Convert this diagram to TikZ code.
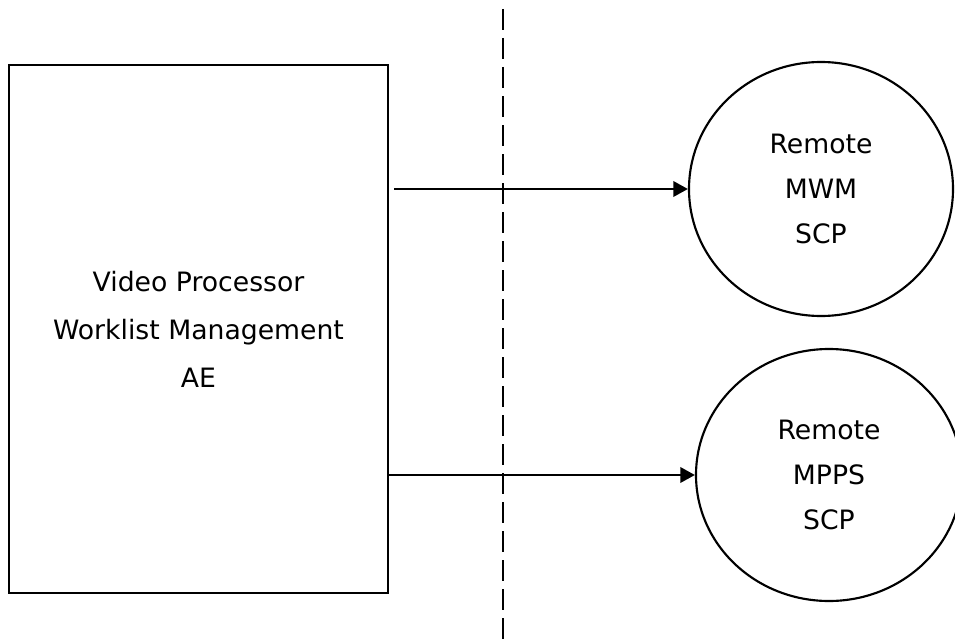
\documentclass[tikz,border=0pt]{standalone}
\usepackage{fontspec}
\setmainfont{DejaVu Sans}
\usetikzlibrary{arrows.meta,shapes.geometric}
\begin{document}
\begin{tikzpicture}[x=0.75pt,y=-0.75pt,
  aebox/.style={draw,line width=1.7pt,align=center,minimum width=284.25pt,minimum height=396pt,font=\fontsize{20}{36}\selectfont},
  scpnode/.style={draw,ellipse,line width=1.6pt,align=center,inner sep=0pt,font=\fontsize{20}{34}\selectfont},
  assoc/.style={line width=2pt,-{Triangle[length=11pt,width=11.5pt]}}]
 \useasboundingbox (0,0) rectangle (955,642);
 \node[aebox] (vpwm) at (198.5,329) {Video Processor\\Worklist Management\\AE};
 \node[scpnode,minimum width=198pt,minimum height=190.5pt] (mwm) at (821,189) {Remote\\MWM\\SCP};
 \node[scpnode,minimum width=199.5pt,minimum height=189pt] (mpps) at (829,475) {Remote\\MPPS\\SCP};
 \coordinate (dtop) at (503,9);
 \coordinate (dbot) at (503,642);
 \draw[line width=2pt,dash pattern=on 15.75pt off 6pt] (dtop) -- (dbot);
 \draw[assoc] ([xshift=3.75pt]vpwm.east |- mwm.west) -- (mwm.west);
 \draw[assoc] (vpwm.east |- mpps.west) -- (mpps.west);
\end{tikzpicture}
\end{document}
